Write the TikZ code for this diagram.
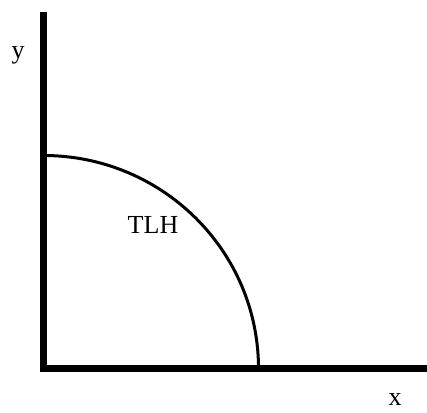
\documentclass[tikz,border=0pt]{standalone}
\usepackage{fontspec}
\setmainfont{Liberation Serif}
\usepackage{tikz}
\usetikzlibrary{calc}

\tikzset{
    axisline/.style={line width=7pt, line join=miter},
    curveline/.style={line width=3pt},
    lbl/.style={font=\fontsize{26}{30}\selectfont, inner sep=0pt}
}

\begin{document}
\begin{tikzpicture}[x=1pt, y=1pt]
    \useasboundingbox (0,0) rectangle (427,412);
    \coordinate (origin) at (43.5,43.5);
    \coordinate (ytop) at (43.5,400);
    \coordinate (xend) at (427,43.5);
    % axes
    \draw[axisline] (ytop) -- (origin) -- (xend);
    % quarter curve
    \draw[curveline] ($(origin)+(0,213)$) arc[start angle=90, end angle=0, x radius=215, y radius=213];
    \node[lbl] (tlh) at (153,187) {TLH};
    \node[lbl] (ylabel) at (18,357) {y};
    \node[lbl] (xlabel) at (395,12) {x};
\end{tikzpicture}
\end{document}
